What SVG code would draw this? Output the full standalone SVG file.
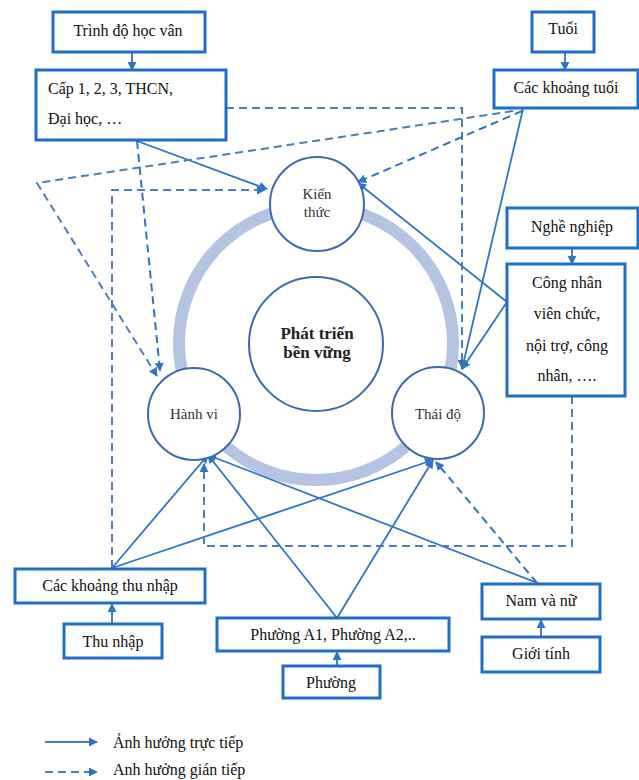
<svg xmlns="http://www.w3.org/2000/svg" width="639" height="780" viewBox="0 0 639 780">
<style>
.box{fill:#fff;stroke:#1f6fc8;stroke-width:3}
.circ{fill:#fff;stroke:#3c6aae;stroke-width:2}
.ring{fill:none;stroke:#b5c4e0;stroke-width:12}
.t{font-family:"Liberation Serif","Times New Roman",serif;font-size:16px;fill:#111;text-anchor:middle}
.tl{text-anchor:start}
.ct{font-family:"Liberation Serif","Times New Roman",serif;font-size:15px;fill:#333;text-anchor:middle}
.cb{font-family:"Liberation Serif","Times New Roman",serif;font-size:17px;font-weight:bold;fill:#222;text-anchor:middle}
.s{fill:none;stroke:#2e75c6;stroke-width:1.8;marker-end:url(#ah)}
.d{fill:none;stroke:#4f7dbb;stroke-width:2;stroke-dasharray:8 5;marker-end:url(#ah)}
.d2{fill:none;stroke:#2d74c6;stroke-width:2;stroke-dasharray:8 5;marker-end:url(#ah)}
.k{fill:none;stroke:#4f7dbb;stroke-width:2;marker-end:url(#ah)}
</style>
<defs>
<marker id="ah" viewBox="0 0 10 10" refX="9" refY="5" markerWidth="9" markerHeight="9" markerUnits="userSpaceOnUse" orient="auto">
<path d="M0,0 L10,5 L0,10 z" fill="#2e75c6"/>
</marker>
</defs>
<circle class="ring" cx="316" cy="343" r="137"/>
<g id="connectors">
<path class="s" d="M137,141 L267,189"/>
<path class="s" d="M523,109 L462,369"/>
<path class="s" d="M507,302 L462,369"/>
<path class="s" d="M507,302 L358,183"/>
<path class="s" d="M112,568 L208,455"/>
<path class="s" d="M112,568 L433,460"/>
<path class="s" d="M337,618 L208,455"/>
<path class="s" d="M337,618 L433,460"/>
<path class="s" d="M540,584 L208,455"/>
<path class="d" d="M226,108 L462,108 L462,368"/>
<path class="d" d="M513,111 L37,183 L157,376"/>
<path class="d2" d="M137,141 L160,371"/>
<path class="d" d="M112,568 L112,190 L265,190"/>
<path class="d" d="M572,396 L572,546 L204,546 L204,464"/>
<path class="d2" d="M537,583 L436,462"/>
<path class="d2" d="M522,111 L358,182"/>
<path class="k" d="M132,52 L132,70"/>
<path class="k" d="M565,52 L565,70"/>
<path class="k" d="M572,248 L572,264"/>
<path class="k" d="M112,624 L112,604"/>
<path class="k" d="M337,666 L337,652"/>
<path class="k" d="M541,637 L541,620"/>
</g>
<g id="kienthuc"><circle class="circ" cx="317" cy="204" r="47"/><text class="ct" x="317" y="199">Kiến</text><text class="ct" x="317" y="217">thức</text></g>
<g id="ptbv"><circle class="circ" cx="316" cy="344" r="67"/><text class="cb" x="317" y="339">Phát triển</text><text class="cb" x="317" y="358">bền vững</text></g>
<g id="hanhvi"><circle class="circ" cx="194" cy="414" r="46"/><text class="ct" x="194" y="419">Hành vi</text></g>
<g id="thaido"><circle class="circ" cx="438" cy="413" r="46"/><text class="ct" x="438" y="419">Thái độ</text></g>
<g id="trinhdo"><rect class="box" x="53" y="12" width="152" height="40"/><text class="t" x="128" y="36">Trình độ học vân</text></g>
<g id="cap"><rect class="box" x="36" y="70" width="190" height="70"/><text class="t tl" x="48" y="94">Cấp 1, 2, 3, THCN,</text><text class="t tl" x="48" y="124">Đại học, …</text></g>
<g id="tuoi"><rect class="box" x="532" y="12" width="62" height="40"/><text class="t" x="563" y="34">Tuổi</text></g>
<g id="khoangtuoi"><rect class="box" x="494" y="70" width="144" height="38"/><text class="t" x="566" y="93">Các khoảng tuổi</text></g>
<g id="nghenghiep"><rect class="box" x="507" y="208" width="131" height="40"/><text class="t" x="572" y="232">Nghề nghiệp</text></g>
<g id="congnhan"><rect class="box" x="507" y="264" width="118" height="132"/><text class="t" x="567" y="288">Công nhân</text><text class="t" x="567" y="319">viên chức,</text><text class="t" x="567" y="351">nội trợ, công</text><text class="t" x="567" y="381">nhân, ….</text></g>
<g id="khoangthunhap"><rect class="box" x="15" y="569" width="190" height="34"/><text class="t" x="110" y="591">Các khoảng thu nhập</text></g>
<g id="thunhap"><rect class="box" x="64" y="624" width="98" height="34"/><text class="t" x="113" y="647">Thu nhập</text></g>
<g id="phuongA"><rect class="box" x="217" y="618" width="232" height="33"/><text class="t" x="333" y="640">Phường A1, Phường A2,..</text></g>
<g id="phuong"><rect class="box" x="283" y="666" width="97" height="32"/><text class="t" x="331" y="688">Phường</text></g>
<g id="namnu"><rect class="box" x="482" y="584" width="118" height="35"/><text class="t" x="541" y="606">Nam và nữ</text></g>
<g id="gioitinh"><rect class="box" x="482" y="637" width="118" height="35"/><text class="t" x="541" y="659">Giới tính</text></g>
<g id="legend">
<path class="k" d="M45,742 L97,742"/>
<path class="k" d="M45,772 L97,772" stroke-dasharray="8 5"/>
<text class="t tl" x="113" y="748">Ảnh hưởng trực tiếp</text>
<text class="t tl" x="113" y="775">Anh hưởng gián tiếp</text>
</g>
</svg>
